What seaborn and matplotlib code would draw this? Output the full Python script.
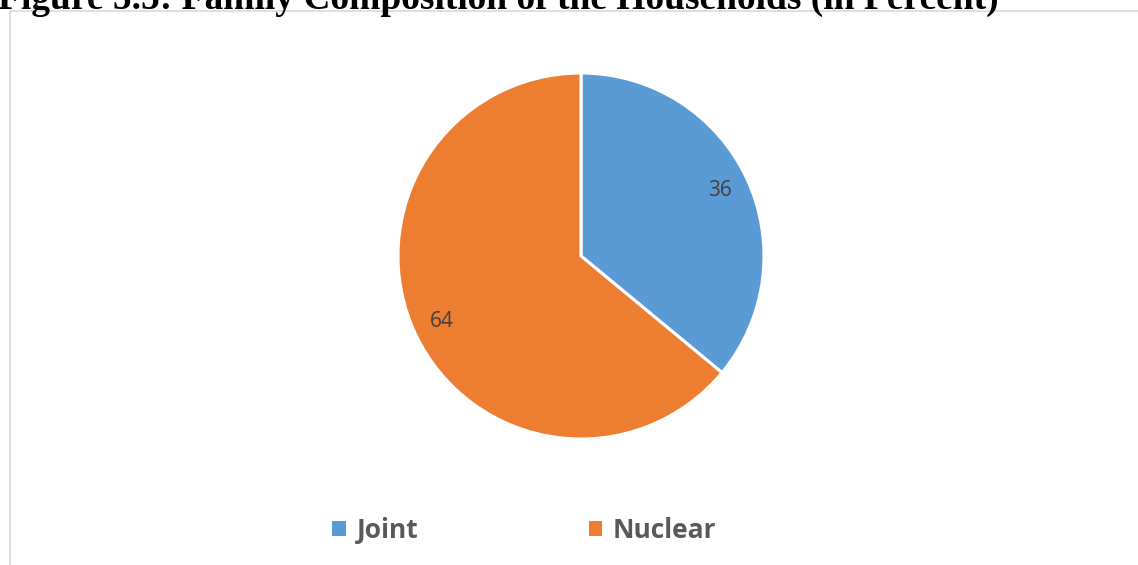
import matplotlib
matplotlib.use("Agg")
import matplotlib.pyplot as plt
import seaborn as sns
from matplotlib.patches import Rectangle, Patch

categories = ["Joint", "Nuclear"]
values = [36, 64]
colors = ["#5B9BD5", "#ED7D31"]
title = "Figure 5.5: Family Composition of the Households (in Percent)"

sns.set_theme(style="white")
plt.rcParams["font.family"] = ["Open Sans", "DejaVu Sans"]

W, H = 1138, 565
fig = plt.figure(figsize=(W / 100, H / 100), dpi=100)

# chart area border
fig.patches.append(Rectangle((10 / W, -0.1), 1.2, 1 - 11 / H + 0.1, transform=fig.transFigure,
                             fill=False, edgecolor="#D9D9D9", linewidth=1.2, zorder=0))

# title (clipped at the top as in the reference)
fig.text(-0.002, 1 - 9 / H, title, family="Liberation Serif", fontweight="bold",
         fontsize=27, color="black", va="baseline", ha="left")

cx, cy, r = 581, 256, 183
ax = fig.add_axes([(cx - r) / W, (H - cy - r) / H, 2 * r / W, 2 * r / H])
wedges, texts = ax.pie(values, colors=colors, startangle=90, counterclock=False,
                       wedgeprops=dict(edgecolor="white", linewidth=2.2),
                       labels=[str(v) for v in values], labeldistance=0.84,
                       textprops=dict(fontsize=15, color="#404040", ha="center", va="center"))
for t in texts:
    t.set_ha("center")
ax.set_xlim(-1.0, 1.0)
ax.set_ylim(-1.0, 1.0)
ax.axis("off")

handles = [Patch(facecolor=c, edgecolor="none") for c in colors]
leg = fig.legend(handles, categories, loc="center left", bbox_to_anchor=(332 / W, 1 - 530.5 / H),
                 ncol=2, frameon=False, handlelength=0.53, handleheight=0.53,
                 handletextpad=0.4, columnspacing=6.45, borderpad=0, borderaxespad=0,
                 prop=dict(family="Open Sans", weight="bold", size=19))
for t in leg.get_texts():
    t.set_color("#595959")

fig.savefig("out.png", dpi=100)
